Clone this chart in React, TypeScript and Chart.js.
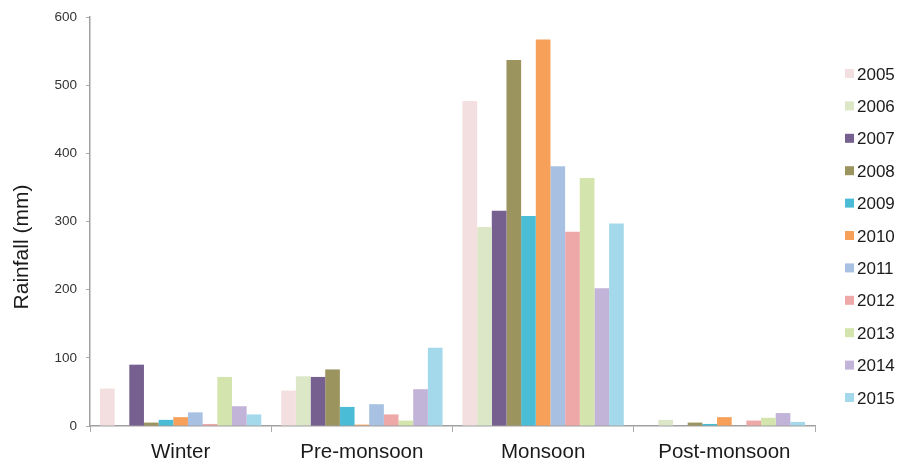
import React, { useEffect, useRef } from "react";
import { Chart, registerables } from "chart.js";

Chart.register(...registerables);

const seasons = ["Winter", "Pre-monsoon", "Monsoon", "Post-monsoon"];
const years = ["2005", "2006", "2007", "2008", "2009", "2010", "2011", "2012", "2013", "2014", "2015"];
const colors = [
  "#f3dfdf", "#dce7c8", "#76608f", "#9c945f", "#4bbcd6", "#f7a05a",
  "#a8c0e2", "#efa8a8", "#d3e4ad", "#c2b3d9", "#a3d9ea",
];

const r2005 = [55, 52, 477, 0];
const r2006 = [0, 73, 292, 9];
const r2007 = [90, 72, 316, 0];
const r2008 = [5, 83, 537, 5];
const r2009 = [9, 28, 308, 3];
const r2010 = [13, 2, 567, 13];
const r2011 = [20, 32, 381, 0];
const r2012 = [3, 17, 285, 8];
const r2013 = [72, 8, 364, 12];
const r2014 = [29, 54, 202, 19];
const r2015 = [17, 115, 297, 6];
const seriesValues = [r2005, r2006, r2007, r2008, r2009, r2010, r2011, r2012, r2013, r2014, r2015];

const yMin = 0;
const yMax = 600;
const yStep = 100;
const yTitle = "Rainfall (mm)";

const FONT = '"Liberation Sans", Arial, Helvetica, sans-serif';

const overlay = {
  id: "overlay",
  afterDraw(chart: any) {
    const ctx = chart.ctx;
    const area = chart.chartArea;
    ctx.save();
    ctx.font = `17px ${FONT}`;
    ctx.textBaseline = "middle";
    ctx.textAlign = "left";
    years.forEach((y, i) => {
      const cy = 74 + i * 32.4;
      ctx.fillStyle = colors[i];
      ctx.fillRect(area.right + 30, cy - 5, 9, 9);
      ctx.fillStyle = "#1a1a1a";
      ctx.fillText(y, area.right + 42, cy + 1);
    });
    ctx.translate(22, 247);
    ctx.rotate(-Math.PI / 2);
    ctx.textAlign = "center";
    ctx.font = `21px ${FONT}`;
    ctx.fillStyle = "#1a1a1a";
    ctx.fillText(yTitle, 0, 0);
    ctx.restore();
  },
};

export default function App() {
  const ref = useRef<HTMLCanvasElement>(null);
  useEffect(() => {
    if (!ref.current) return;
    const chart = new Chart(ref.current, {
      type: "bar",
      data: {
        labels: seasons,
        datasets: years.map((y, i) => ({
          label: y,
          data: seriesValues[i],
          backgroundColor: colors[i],
          borderWidth: 0,
          barPercentage: 1,
          categoryPercentage: 0.89,
        })),
      },
      options: {
        animation: false,
        responsive: false,
        devicePixelRatio: 1,
        layout: { padding: { left: 0, top: 15, right: 87, bottom: 0 } },
        plugins: {
          legend: { display: false },
          tooltip: { enabled: false },
        },
        scales: {
          x: {
            afterFit: (s: any) => { s.height = 39; },
            grid: { drawOnChartArea: false, drawTicks: true, tickLength: 6, color: "#aaa" },
            border: { color: "#a0a0a0", width: 1.5 },
            ticks: { font: { family: FONT, size: 20.5 }, color: "#1a1a1a", padding: 8, maxRotation: 0 },
          },
          y: {
            min: yMin,
            max: yMax,
            afterFit: (s: any) => { s.width = 90; },
            grid: { drawOnChartArea: false, drawTicks: true, tickLength: 4, color: "#aaa" },
            border: { color: "#a0a0a0", width: 1.5 },
            ticks: { stepSize: yStep, font: { family: FONT, size: 13.5 }, color: "#333", padding: 9 },
          },
        },
      },
      plugins: [overlay],
    });
    return () => chart.destroy();
  }, []);
  return (
    <div style={{ position: "fixed", left: 0, top: 0, width: 902, height: 465, background: "#fff" }}>
      <canvas ref={ref} width={902} height={465} />
    </div>
  );
}
